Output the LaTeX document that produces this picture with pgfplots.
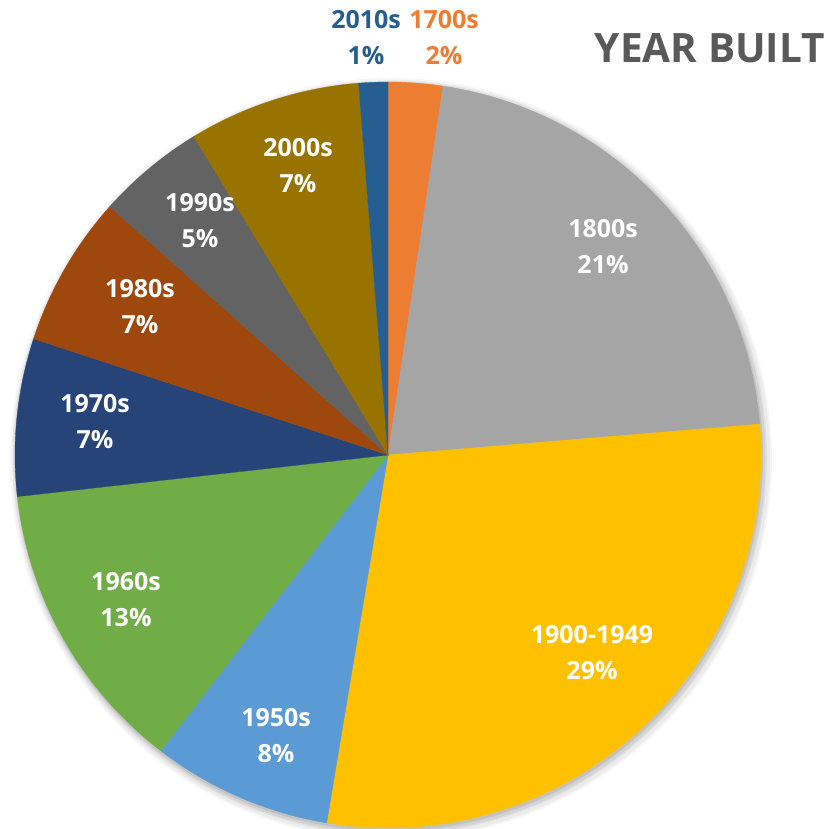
\documentclass[border=0pt]{standalone}
\usepackage{pgfplots}
\pgfplotsset{compat=1.18}
\usepackage{fontspec}
\setmainfont{Open Sans}
\definecolor{c1700}{HTML}{ED7D31}
\definecolor{c1800}{HTML}{A5A5A5}
\definecolor{c1900}{HTML}{FFC000}
\definecolor{c1950}{HTML}{5B9BD5}
\definecolor{c1960}{HTML}{70AD47}
\definecolor{c1970}{HTML}{264478}
\definecolor{c1980}{HTML}{9E480E}
\definecolor{c1990}{HTML}{636363}
\definecolor{c2000}{HTML}{997300}
\definecolor{c2010}{HTML}{255E91}
\definecolor{ctitle}{HTML}{595959}
% slice start/end in percent (cumulative, clockwise from top)
% 1700s 2.36, 1800s 21.32, 1900-1949 28.95, 1950s 7.79, 1960s 12.80,
% 1970s 6.82, 1980s 6.56, 1990s 4.69, 2000s 7.45, 2010s 1.26
\newcommand{\pieslice}[3]{%
  \addplot[fill=#1, draw=#1, line width=0.3bp, domain=#2:#3, samples=60, variable=\t, overlay]
    ({388+373*sin(3.6*\t)}, {-455+373*cos(3.6*\t)}) -- (388,-455) -- cycle;}
\newcommand{\lab}[4]{\node[align=center, inner sep=0pt, text=#4, font=\fontsize{25bp}{36bp}\selectfont\bfseries] at (#1,#2) {#3};}
\begin{document}
\begin{tikzpicture}
\begin{axis}[
  scale only axis, width=831bp, height=829bp,
  xmin=0, xmax=831, ymin=-829, ymax=0,
  hide axis, clip=false]
\path (rel axis cs:0,0) rectangle (rel axis cs:1,1);
% soft shadow
\fill[overlay, black, opacity=0.035] (391,-459) circle[radius=381bp];
\fill[overlay, black, opacity=0.04] (391,-459) circle[radius=379bp];
\fill[overlay, black, opacity=0.05] (390,-458) circle[radius=377bp];
\fill[overlay, black, opacity=0.06] (390,-458) circle[radius=375.5bp];
\fill[overlay, black, opacity=0.08] (389,-457) circle[radius=374bp];
\pieslice{c1700}{0}{2.36}
\pieslice{c1800}{2.36}{23.68}
\pieslice{c1900}{23.68}{52.63}
\pieslice{c1950}{52.63}{60.42}
\pieslice{c1960}{60.42}{73.22}
\pieslice{c1970}{73.22}{80.04}
\pieslice{c1980}{80.04}{86.60}
\pieslice{c1990}{86.60}{91.29}
\pieslice{c2000}{91.29}{98.74}
\pieslice{c2010}{98.74}{100}
\lab{603}{-247}{1800s\\21\%}{white}
\lab{592}{-653}{1900-1949\\29\%}{white}
\lab{276}{-736}{1950s\\8\%}{white}
\lab{126}{-600}{1960s\\13\%}{white}
\lab{95}{-422}{1970s\\7\%}{white}
\lab{140}{-307}{1980s\\7\%}{white}
\lab{200}{-221}{1990s\\5\%}{white}
\lab{298}{-166}{2000s\\7\%}{white}
\lab{366}{-38}{2010s\\1\%}{c2010}
\lab{444}{-38}{1700s\\2\%}{c1700}
\node[anchor=east, inner sep=0pt, text=ctitle, font=\fontsize{40.5bp}{48bp}\selectfont\bfseries] at (825,-48) {YEAR BUILT};
\end{axis}
\end{tikzpicture}
\end{document}
